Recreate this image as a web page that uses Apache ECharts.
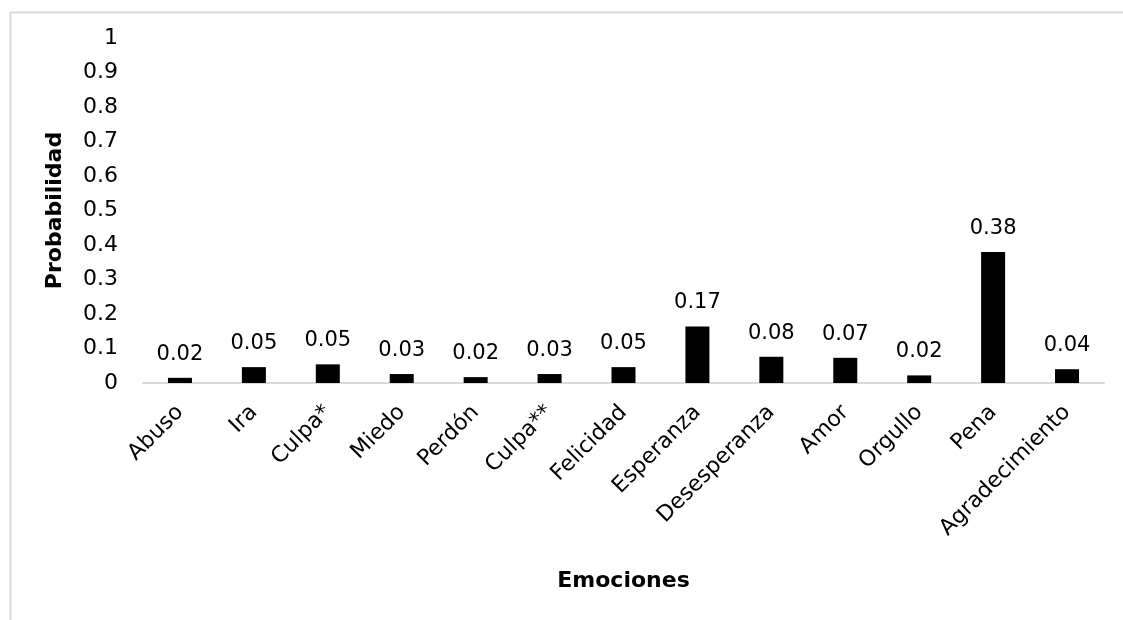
<!DOCTYPE html>
<html>
<head>
<meta charset="utf-8">
<script src="https://cdn.jsdelivr.net/npm/echarts@6/dist/echarts.min.js"></script>
<style>html,body{margin:0;padding:0;background:#fff}#c{width:1123px;height:620px}</style>
</head>
<body>
<div id="c"></div>
<script>
const categories = ['Abuso','Ira','Culpa*','Miedo','Perdón','Culpa**','Felicidad','Esperanza','Desesperanza','Amor','Orgullo','Pena','Agradecimiento'];
const values = [0.015,0.046,0.054,0.026,0.017,0.026,0.046,0.164,0.076,0.073,0.022,0.38,0.04];
const labels = ['0.02','0.05','0.05','0.03','0.02','0.03','0.05','0.17','0.08','0.07','0.02','0.38','0.04'];
const yTicks = [0,0.1,0.2,0.3,0.4,0.5,0.6,0.7,0.8,0.9,1];

const FONT = 'DejaVu Sans';
const chart = echarts.init(document.getElementById('c'), null, {renderer:'canvas'});
chart.setOption({
  animation:false,
  backgroundColor:'#fff',
  graphic:[{type:'rect',left:8,top:10,shape:{width:1200,height:700},style:{fill:null,stroke:'#d9d9d9',lineWidth:2},silent:true}],
  grid:{left:143,right:19,top:38,bottom:237},
  xAxis:{
    type:'category',data:categories,
    name:'Emociones',nameLocation:'middle',nameGap:187,
    nameTextStyle:{fontFamily:FONT,fontWeight:'bold',fontSize:22,color:'#000'},
    axisLine:{lineStyle:{color:'#d9d9d9',width:2}},
    axisTick:{show:false},
    axisLabel:{rotate:45,interval:0,margin:26,fontFamily:FONT,fontSize:22,color:'#000'}
  },
  yAxis:{
    type:'value',min:0,max:1,interval:0.1,
    name:'Probabilidad',nameLocation:'middle',nameGap:77,nameRotate:90,
    nameTextStyle:{fontFamily:FONT,fontWeight:'bold',fontSize:22,color:'#000'},
    axisLine:{show:false},axisTick:{show:false},splitLine:{show:false},
    axisLabel:{margin:25,fontFamily:FONT,fontSize:22,color:'#000',
      formatter:v=>{const t=yTicks.find(x=>Math.abs(x-v)<1e-9);return String(t!==undefined?t:v);}}
  },
  series:[{
    type:'bar',data:values,barWidth:24,
    itemStyle:{color:'#000'},
    label:{show:true,position:'top',distance:13,fontFamily:FONT,fontSize:21,color:'#000',
      formatter:p=>labels[p.dataIndex]}
  }]
});
</script>
</body>
</html>
